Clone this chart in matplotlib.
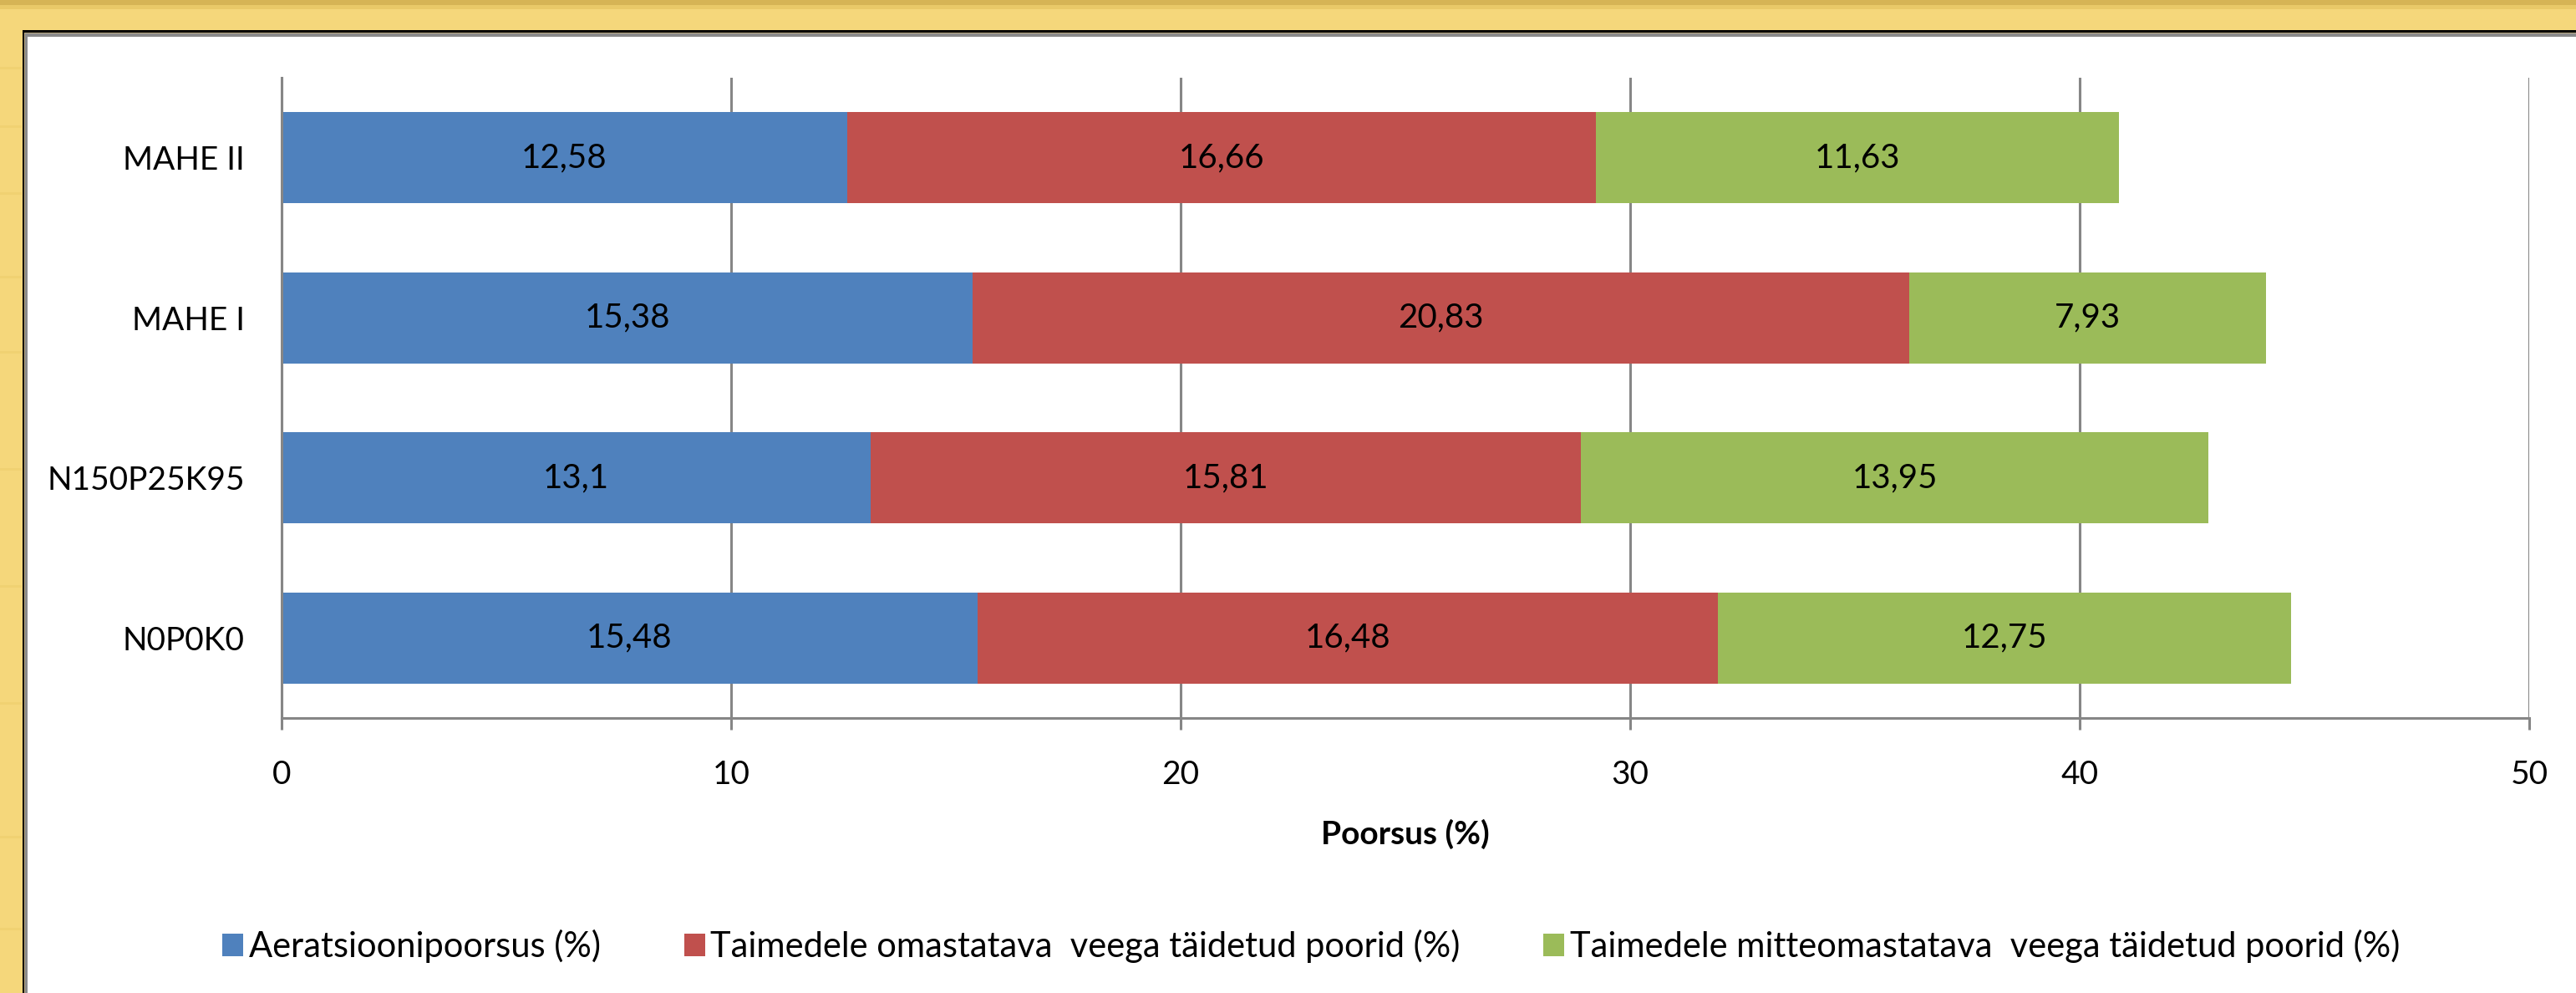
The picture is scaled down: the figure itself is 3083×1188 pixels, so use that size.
import matplotlib
matplotlib.use("Agg")
import matplotlib.pyplot as plt
from matplotlib.patches import Rectangle
import numpy as np

# Soil porosity components per treatment (bottom to top)
categories = ["N0P0K0", "N150P25K95", "MAHE I", "MAHE II"]
aeration = [15.48, 13.1, 15.38, 12.58]
available_water = [16.48, 15.81, 20.83, 16.66]
unavailable_water = [12.75, 13.95, 7.93, 11.63]

series_names = [
    "Aeratsioonipoorsus (%)",
    "Taimedele omastatava  veega täidetud poorid (%)",
    "Taimedele mitteomastatava  veega täidetud poorid (%)",
]
series_colors = ["#4F81BD", "#C0504D", "#9BBB59"]
x_ticks = [0, 10, 20, 30, 40, 50]
x_label = "Poorsus (%)"

FONT = ["Lato", "DejaVu Sans"]
plt.rcParams["font.family"] = FONT
FS = 28
GRID = "#868686"

W, H = 3083, 1188
fig = plt.figure(figsize=(W / 100, H / 100), dpi=100)
fig.patch.set_facecolor("#F5D77B")

# decorative frame: yellow band, dark rule, grey rule, white panel
bg = fig.add_axes([0, 0, 1, 1], zorder=-10)
bg.set_xlim(0, W)
bg.set_ylim(H, 0)
bg.axis("off")
bg.add_patch(Rectangle((0, 0), W, 6, color="#D6B455", lw=0))
bg.add_patch(Rectangle((0, 6), W, 5, color="#E9C968", lw=0))
for yy in (80, 150, 230, 330, 420, 560, 700, 840, 1000, 1110):
    bg.add_patch(Rectangle((0, yy), 26, 3, color="#F0D172", lw=0))
bg.add_patch(Rectangle((27, 36), W - 27, H - 36, color="#000000", lw=0))
bg.add_patch(Rectangle((29, 39), W - 29, H - 39, color="#B8A880", lw=0))
bg.add_patch(Rectangle((30, 40), W - 30, H - 40, color="#8A8A8A", lw=0))
bg.add_patch(Rectangle((33, 44), W - 33, H - 44, color="white", lw=0))

left, right, top, bottom = 337, 3027, 93, 859
ax = fig.add_axes([left / W, 1 - bottom / H, (right - left) / W, (bottom - top) / H])
ax.set_facecolor("none")

y = np.arange(len(categories))
bar_h = 0.57
lefts = np.zeros(len(categories))
for vals, name, col in zip([aeration, available_water, unavailable_water], series_names, series_colors):
    bars = ax.barh(y, vals, height=bar_h, left=lefts, color=col, label=name, zorder=3)
    for b, v in zip(bars, vals):
        ax.text(b.get_x() + b.get_width() / 2, b.get_y() + b.get_height() / 2,
                f"{v:g}".replace(".", ","), ha="center", va="center",
                fontsize=FS + 1, color="black", zorder=4)
    lefts = lefts + np.array(vals)

ax.set_xlim(0, 50)
ax.set_ylim(-0.5, len(categories) - 0.5)
ax.set_xticks(x_ticks)
ax.set_xticklabels([str(t) for t in x_ticks])
ax.set_yticks(y)
ax.set_yticklabels(categories)
ax.xaxis.grid(True, color=GRID, lw=2.2, zorder=1)
ax.set_axisbelow(True)

for s in ("top", "right"):
    ax.spines[s].set_visible(False)
for s in ("left", "bottom"):
    ax.spines[s].set_color(GRID)
    ax.spines[s].set_linewidth(2.2)
    ax.spines[s].set_zorder(5)

ax.tick_params(axis="x", length=10, width=2.2, color=GRID, pad=26, labelsize=FS)
ax.tick_params(axis="y", length=0, pad=32, labelsize=FS)

ax.set_xlabel(x_label, fontsize=FS, fontweight="bold")
ax.xaxis.set_label_coords(0.5, -(998 - bottom) / (bottom - top))
ax.xaxis.label.set_va("center")

fig.legend(loc="center", bbox_to_anchor=(0.509, 1 - 1132 / H), ncol=3, frameon=False,
           fontsize=30, handlelength=0.6, handleheight=0.6, handletextpad=0.15,
           columnspacing=2.4)

fig.savefig("out.png", dpi=100, facecolor=fig.get_facecolor())
